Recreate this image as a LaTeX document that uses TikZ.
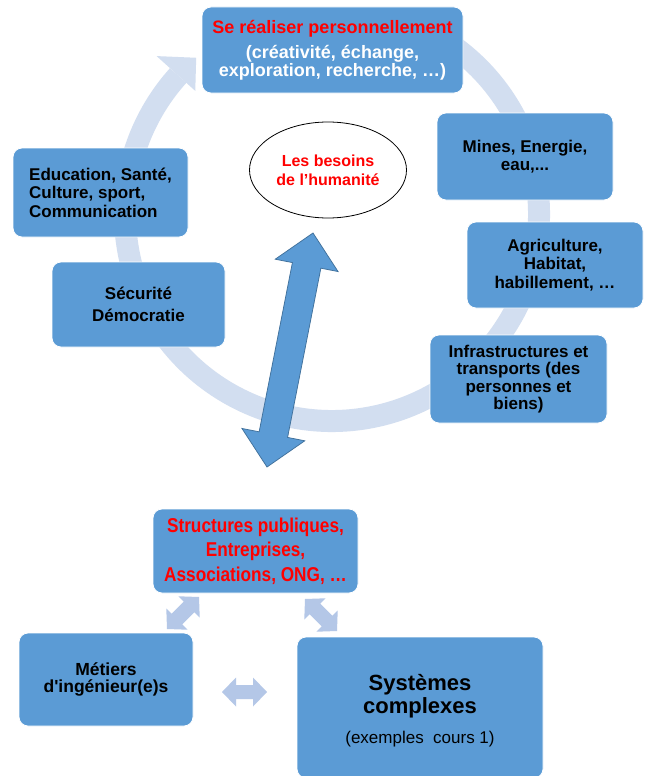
\documentclass[tikz,border=0pt]{standalone}
\usepackage{fontspec}
\setmainfont{Liberation Sans}
\newfontfamily\narrowsans[FakeStretch=0.86]{Liberation Sans}
\usetikzlibrary{calc,shapes.geometric}
\definecolor{boxblue}{RGB}{91,155,213}
\definecolor{ringblue}{RGB}{210,222,240}
\definecolor{lightarrow}{RGB}{180,199,231}
\definecolor{arrowedge}{RGB}{65,113,156}
\definecolor{hred}{RGB}{255,0,0}
% #1 style, #2 tip A, #3 tip B, #4 head length, #5 head half width, #6 shaft half width
\newcommand{\fatdarrow}[6]{%
  \coordinate (fa1) at ($(#2)!#4!(#3)$);
  \coordinate (fa2) at ($(#3)!#4!(#2)$);
  \path[#1] (#2) -- ($(fa1)!#5!90:(#2)$) -- ($(fa1)!#6!90:(#2)$)
    -- ($(fa2)!#6!90:(#2)$) -- ($(fa2)!#5!90:(#2)$) -- (#3)
    -- ($(fa2)!#5!-90:(#2)$) -- ($(fa2)!#6!-90:(#2)$)
    -- ($(fa1)!#6!-90:(#2)$) -- ($(fa1)!#5!-90:(#2)$) -- cycle;}
\begin{document}
\begin{tikzpicture}[x=1pt,y=-1pt,
  box/.style={rectangle, rounded corners=9pt, fill=boxblue, draw=white,
    line width=0.8pt, align=center, inner sep=0pt,
    font=\bfseries\fontsize{17}{18.5}\selectfont},
  ringline/.style={draw=ringblue, line width=22pt},
  bigarrow/.style={fill=boxblue, draw=arrowedge, line width=0.75pt},
  smallarrow/.style={fill=lightarrow}]
\useasboundingbox (0,0) rectangle (646,776);
\fill[white] (0,0) rectangle (646,776);
% ring (circular arrow)
\coordinate (rc) at (332,214);
\draw[ringline] ($(rc)+(-62:207)$) arc[start angle=-62, end angle=222, radius=207];
\fill[ringblue] ($(rc)+(222:236)$) -- ($(rc)+(229:207)$) -- ($(rc)+(222:184)$) -- cycle;
% boxes on the ring
\node[box, minimum width=261pt, minimum height=86pt,
  font=\bfseries\fontsize{18}{17.5}\selectfont] (self) at (332.5,50)
  {\textcolor{hred}{Se réaliser personnellement}\\[8pt]
   \textcolor{white}{(créativité, échange,}\\
   \textcolor{white}{exploration, recherche, …)}};
\node[box, minimum width=175pt, minimum height=89pt, align=left] (edu) at (100.5,192.5)
  {Education, Santé,\\ Culture, sport,\\ Communication};
\node[box, minimum width=173pt, minimum height=85pt,
  font=\bfseries\fontsize{17}{22}\selectfont] (secu) at (138.5,304.5)
  {Sécurité\\ Démocratie};
\node[box, minimum width=176pt, minimum height=87pt] (mines) at (525,156.5)
  {Mines, Energie,\\ eau,...};
\node[box, minimum width=176pt, minimum height=86pt] (agri) at (555,265)
  {Agriculture,\\ Habitat,\\ habillement, …};
\node[box, minimum width=177pt, minimum height=88pt,
  font=\bfseries\fontsize{17}{17.5}\selectfont] (infra) at (518.5,379)
  {Infrastructures et\\ transports (des\\ personnes et\\ biens)};
% centre ellipse
\node[ellipse, draw=black, line width=0.8pt, fill=white, minimum width=157pt,
  minimum height=96pt, inner sep=0pt, text=hred, align=center,
  font=\bfseries\fontsize{16}{19}\selectfont] (need) at (328,170)
  {Les besoins\\ de l’humanité};
% big double arrow
\coordinate (bt) at (313,233);
\coordinate (bb) at (267,467);
\fatdarrow{bigarrow}{bt}{bb}{33pt}{32pt}{14.5pt}
% lower part
\node[box, minimum width=205pt, minimum height=84pt, text=hred,
  font=\narrowsans\bfseries\fontsize{20}{24.5}\selectfont] (org) at (255.5,551)
  {Structures publiques,\\ Entreprises,\\ Associations, ONG, …};
\node[box, minimum width=174pt, minimum height=93pt,
  font=\bfseries\fontsize{17.5}{17.5}\selectfont] (job) at (106,679.5)
  {Métiers\\ d\textquotesingle ingénieur(e)s};
\node[box, minimum width=246pt, minimum height=141pt] (sys) at (420,707.5) {};
\node[anchor=base, font=\bfseries\fontsize{22}{23}\selectfont] (sys1) at (420,690) {Systèmes};
\node[anchor=base, font=\bfseries\fontsize{22}{23}\selectfont] (sys2) at (420,713) {complexes};
\node[anchor=base, font=\fontsize{17}{17}\selectfont] (sys3) at (420,743) {(exemples~ cours 1)};
% small connectors
\coordinate (la1) at (199,597);
\coordinate (la2) at (167,629);
\fatdarrow{smallarrow}{la1}{la2}{14pt}{15pt}{7.5pt}
\coordinate (ra1) at (305,599);
\coordinate (ra2) at (337,631);
\fatdarrow{smallarrow}{ra1}{ra2}{14pt}{15pt}{7.5pt}
\coordinate (ha1) at (222,692);
\coordinate (ha2) at (267,692);
\fatdarrow{smallarrow}{ha1}{ha2}{14pt}{14.5pt}{7pt}
\end{tikzpicture}
\end{document}
